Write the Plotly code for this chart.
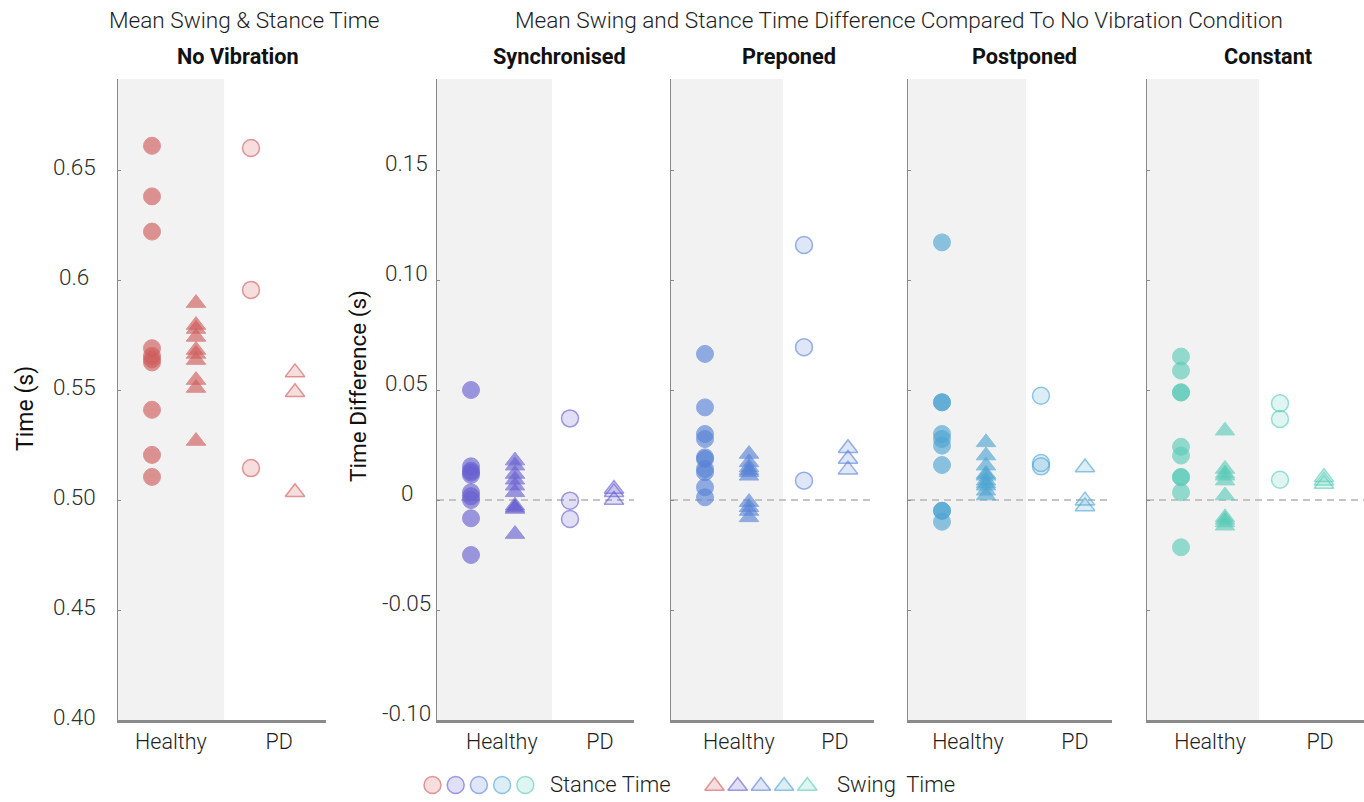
import plotly.graph_objects as go

# ---------------- data ----------------
conditions = ["No Vibration", "Synchronised", "Preponed", "Postponed", "Constant"]
group_labels = ["Healthy", "PD"]
legend_labels = ["Stance Time", "Swing\u00a0 Time"]

nv_healthy_stance = [0.661, 0.638, 0.622, 0.569, 0.5655, 0.564, 0.5625, 0.541, 0.5205, 0.5105]
nv_healthy_swing = [0.5895, 0.5795, 0.5777, 0.5741, 0.5682, 0.5664, 0.5636, 0.5545, 0.5509, 0.5268]
nv_pd_stance = [0.660, 0.5955, 0.5145]
nv_pd_swing = [0.558, 0.549, 0.5035]

sync_healthy_stance = [0.050, 0.0153, 0.0133, 0.0125, 0.0114, 0.0035, 0.0017, 0.0, -0.0083, -0.025]
sync_healthy_swing = [0.0179, 0.0156, 0.0118, 0.0092, 0.0065, 0.0035, -0.0026, -0.0035, -0.0041, -0.0155]
sync_pd_stance = [0.0371, -0.0003, -0.0086]
sync_pd_swing = [0.005, 0.0035, 0.0]

prep_healthy_stance = [0.0664, 0.0421, 0.030, 0.0277, 0.0194, 0.0186, 0.0141, 0.0126, 0.0058, 0.0012]
prep_healthy_swing = [0.0209, 0.0171, 0.0148, 0.0135, 0.0126, 0.011, -0.001, -0.0033, -0.005, -0.0079]
prep_pd_stance = [0.1159, 0.0694, 0.0088]
prep_pd_swing = [0.0235, 0.0186, 0.0138]

post_healthy_stance = [0.1171, 0.0444, 0.0444, 0.030, 0.0277, 0.0247, 0.0159, -0.0049, -0.0049, -0.0099]
post_healthy_swing = [0.0262, 0.0202, 0.0156, 0.0118, 0.011, 0.0088, 0.0075, 0.0065, 0.0042, 0.002]
post_pd_stance = [0.0474, 0.0168, 0.0153]
post_pd_swing = [0.0148, -0.0003, -0.0029]

const_healthy_stance = [0.0652, 0.0588, 0.049, 0.0488, 0.0242, 0.0202, 0.0105, 0.0103, 0.0035, -0.0215]
const_healthy_swing = [0.0315, 0.0141, 0.012, 0.011, 0.0088, 0.002, -0.0079, -0.009, -0.0102, -0.0117]
const_pd_stance = [0.044, 0.0368, 0.0092]
const_pd_swing = [0.0103, 0.0088, 0.0073]

abs_ticks = [0.40, 0.45, 0.50, 0.55, 0.60, 0.65]
abs_tick_text = ["0.40", "0.45", "0.50", "0.55", "0.6", "0.65"]
diff_ticks = [-0.10, -0.05, 0.0, 0.05, 0.10, 0.15]
diff_tick_text = ["-0.10", "-0.05", "0", "0.05", "0.10", "0.15"]

panel_data = [
    (nv_healthy_stance, nv_healthy_swing, nv_pd_stance, nv_pd_swing),
    (sync_healthy_stance, sync_healthy_swing, sync_pd_stance, sync_pd_swing),
    (prep_healthy_stance, prep_healthy_swing, prep_pd_stance, prep_pd_swing),
    (post_healthy_stance, post_healthy_swing, post_pd_stance, post_pd_swing),
    (const_healthy_stance, const_healthy_swing, const_pd_stance, const_pd_swing),
]

# ---------------- styling / layout constants ----------------
W, H = 1364, 802
TOP_PX, BOT_PX = 79, 720
UNIT_PX = 44.0
FIRST_OFF_PX = 34.0
panel_px = [(118, 326), (437, 634), (671, 874), (908, 1112), (1147, 1364)]
title_px = [238, 559, 789, 1024, 1268]
group_pos = [1.0, 2.0, 3.25, 4.25]          # healthy stance, healthy swing, PD stance, PD swing
band_end = [2.64, 2.84, 2.77, 2.91, 2.77]
label_pos = [(1.43, 3.89), (1.70, 3.93), (1.77, 3.95), (1.59, 4.02), (1.66, 4.16)]
label_standoff = [0, 0, 0, 0, 0]
base_colors = [(208, 92, 92), (104, 96, 208), (88, 131, 214), (78, 165, 210), (92, 203, 184)]

FONT = "Roboto"
LIGHT = 300
TICK_COLOR = "#2e2e2e"
AX_COLOR = "#8a8a8a"


def rgba(c, a):
    return "rgba(%d,%d,%d,%.3f)" % (c[0], c[1], c[2], a)


def lfont(size, color=TICK_COLOR):
    return dict(family=FONT, size=size, color=color, weight=LIGHT)


fig = go.Figure()
annotations = []
shapes = []

y_dom = [1 - BOT_PX / H, 1 - TOP_PX / H]
abs_range = [0.40, 0.40 + (BOT_PX - TOP_PX) / 110.0 * 0.05]
diff_range = [-0.10, -0.10 + (BOT_PX - TOP_PX) / 110.0 * 0.05]

for i, (cond, vals) in enumerate(zip(conditions, panel_data)):
    n = "" if i == 0 else str(i + 1)
    xa, ya = "x" + n, "y" + n
    l, r = panel_px[i]
    col = base_colors[i]
    xr = [1 - FIRST_OFF_PX / UNIT_PX, 1 + (r - l - FIRST_OFF_PX) / UNIT_PX]
    yr = abs_range if i == 0 else diff_range
    ticks = abs_ticks if i == 0 else diff_ticks

    symbols = ["circle", "triangle-up", "circle", "triangle-up"]
    for k, yv in enumerate(vals):
        healthy = k < 2
        if healthy:
            marker = dict(symbol=symbols[k], size=17, color=rgba(col, 1), opacity=0.64,
                          line=dict(color=rgba(col, 1), width=1))
        else:
            marker = dict(symbol=symbols[k], size=17, color=rgba(col, 0.2),
                          line=dict(color=rgba(col, 0.62), width=1.5))
        fig.add_trace(go.Scatter(x=[group_pos[k]] * len(yv), y=yv, mode="markers",
                                 marker=marker, xaxis=xa, yaxis=ya, showlegend=False,
                                 hoverinfo="y"))

    fig.update_layout(**{
        ("xaxis" + n): dict(domain=[l / W, min(r / W, 1.0)], range=xr, anchor=ya,
                            showline=True, linecolor=AX_COLOR, linewidth=2.5,
                            showgrid=False, zeroline=False, ticks="",
                            tickvals=list(label_pos[i]), ticktext=group_labels,
                            ticklabelstandoff=label_standoff[i],
                            tickfont=lfont(21.5, "#1e1e1e"),
                            fixedrange=True),
        ("yaxis" + n): dict(domain=y_dom, range=yr, anchor=xa, showline=True,
                            linecolor=AX_COLOR, linewidth=1.2, showgrid=False,
                            zeroline=False, ticks="inside", ticklen=3, tickwidth=1,
                            tickcolor=AX_COLOR, tickvals=ticks, showticklabels=False,
                            fixedrange=True),
    })

    # grey background band behind the healthy group
    shapes.append(dict(type="rect", xref=xa, yref=ya + " domain", x0=xr[0], x1=band_end[i],
                       y0=0, y1=1, fillcolor="#f2f2f2", line=dict(width=0), layer="below"))
    if i > 0:
        shapes.append(dict(type="line", xref=xa + " domain", yref=ya, x0=0, x1=1, y0=0, y1=0,
                           line=dict(color="#c4c4c4", width=2, dash="7px,5px"), layer="below"))

    # sub-title
    annotations.append(dict(text="<b>%s</b>" % cond, xref="paper", yref="paper",
                            x=title_px[i] / W, y=1 - 57 / H, showarrow=False,
                            xanchor="center", yanchor="middle",
                            font=dict(family=FONT, size=21.7, color="#111111")))

# y tick labels (centred, as in the reference)
for tv, tt in zip(abs_ticks, abs_tick_text):
    annotations.append(dict(text=tt, xref="paper", yref="y", x=74 / W, y=tv, showarrow=False,
                            xanchor="center", yanchor="middle", yshift=3,
                            font=lfont(22.5)))
for tv, tt in zip(diff_ticks, diff_tick_text):
    annotations.append(dict(text=tt, xref="paper", yref="y2", x=406.5 / W, y=tv, showarrow=False,
                            xanchor="center", yanchor="middle", yshift=7,
                            font=lfont(22.5)))

# axis titles
annotations.append(dict(text="Time (s)", xref="paper", yref="paper", x=25 / W, y=1 - 409 / H,
                        showarrow=False, textangle=-90, xanchor="center", yanchor="middle",
                        font=dict(family=FONT, size=23, color="#111111")))
annotations.append(dict(text="Time Difference (s)", xref="paper", yref="paper", x=358 / W,
                        y=1 - 386 / H, showarrow=False, textangle=-90, xanchor="center",
                        yanchor="middle", font=dict(family=FONT, size=22.5, color="#111111")))

# main titles
annotations.append(dict(text="Mean Swing &amp; Stance Time", xref="paper", yref="paper",
                        x=244 / W, y=1 - 20 / H, showarrow=False, xanchor="center",
                        yanchor="middle", font=lfont(22.6, "#1e1e1e")))
annotations.append(dict(text="Mean Swing and Stance Time Difference Compared To No Vibration Condition",
                        xref="paper", yref="paper", x=899 / W, y=1 - 20 / H, showarrow=False,
                        xanchor="center", yanchor="middle", font=lfont(22.6, "#1e1e1e")))

# ---------------- custom legend on a full-figure overlay axis ----------------
LEG_Y = 785
circ_x0, tri_x0, LEG_STEP = 432.5, 714.5, 23.2
for j, col in enumerate(base_colors):
    fig.add_trace(go.Scatter(x=[circ_x0 + j * LEG_STEP], y=[LEG_Y], mode="markers",
                             marker=dict(symbol="circle", size=17, color=rgba(col, 0.2),
                                         line=dict(color=rgba(col, 0.62), width=1.5)),
                             xaxis="x6", yaxis="y6", showlegend=False, hoverinfo="skip"))
    fig.add_trace(go.Scatter(x=[tri_x0 + j * LEG_STEP], y=[LEG_Y + 1], mode="markers",
                             marker=dict(symbol="triangle-up", size=17, color=rgba(col, 0.2),
                                         line=dict(color=rgba(col, 0.62), width=1.5)),
                             xaxis="x6", yaxis="y6", showlegend=False, hoverinfo="skip"))
annotations.append(dict(text=legend_labels[0], xref="paper", yref="paper", x=548 / W,
                        y=1 - 784 / H, showarrow=False, xanchor="left", yanchor="middle",
                        font=lfont(22, "#1e1e1e")))
annotations.append(dict(text=legend_labels[1], xref="paper", yref="paper", x=835 / W,
                        y=1 - 784 / H, showarrow=False, xanchor="left", yanchor="middle",
                        font=lfont(22, "#1e1e1e")))

fig.update_layout(
    xaxis6=dict(domain=[0, 1], range=[0, W], visible=False, anchor="y6", fixedrange=True),
    yaxis6=dict(domain=[0, 1], range=[H, 0], visible=False, anchor="x6", fixedrange=True),
)

fig.update_layout(
    width=W, height=H, autosize=False,
    margin=dict(l=0, r=0, t=0, b=0),
    paper_bgcolor="white", plot_bgcolor="rgba(0,0,0,0)",
    showlegend=False,
    font=dict(family=FONT, color=TICK_COLOR),
    annotations=annotations, shapes=shapes,
)

fig.write_html("out.html", config={"displayModeBar": False},
               post_script="document.body.style.margin='0';document.body.style.overflow='hidden';")
